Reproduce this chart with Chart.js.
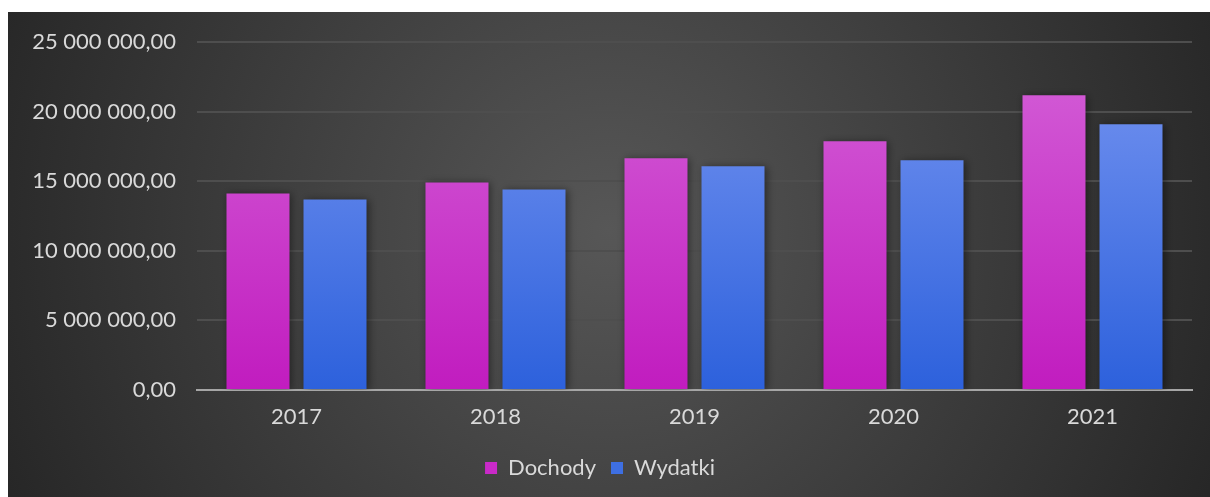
<!DOCTYPE html>
<html>
<head>
<meta charset="utf-8">
<script src="https://cdn.jsdelivr.net/npm/chart.js@4/dist/chart.umd.min.js"></script>
<style>
  html, body { margin: 0; padding: 0; background: #fff; }
  #wrap { position: absolute; left: 8px; top: 12px; width: 1202px; height: 485px; }
</style>
</head>
<body>
<div id="wrap"><canvas id="myChart"></canvas></div>
<script>
const lata = ['2017', '2018', '2019', '2020', '2021'];
const dochody = [14120000, 14910000, 16640000, 17870000, 21180000];
const wydatki = [13690000, 14410000, 16070000, 16500000, 19090000];
const tickValues = [0, 5000000, 10000000, 15000000, 20000000, 25000000];

function formatPL(v) { // 25 000 000,00
  const s = Math.round(v).toString().replace(/\B(?=(\d{3})+(?!\d))/g, ' ');
  return s + ',00';
}

const tlo = { // radialny gradient tła
  id: 'tlo',
  beforeDraw(chart) {
    const c = chart.ctx, w = chart.width, h = chart.height;
    const g = c.createRadialGradient(w * 0.5, h * 0.45, 0, w * 0.5, h * 0.45, w * 0.6);
    g.addColorStop(0, '#575757');
    g.addColorStop(1, '#222222');
    c.save();
    c.fillStyle = g;
    c.fillRect(0, 0, w, h);
    c.restore();
  }
};

const kolory = [['#d157d4', '#c11cbf'], ['#6689ec', '#2d61dc']];

const gradienty = { // gradient na każdym słupku + cień
  id: 'gradienty',
  beforeDatasetsDraw(chart) {
    const c = chart.ctx;
    chart.data.datasets.forEach((ds, i) => {
      chart.getDatasetMeta(i).data.forEach(el => {
        const g = c.createLinearGradient(0, el.y, 0, el.base);
        g.addColorStop(0, kolory[i][0]);
        g.addColorStop(1, kolory[i][1]);
        el.options.backgroundColor = g;
      });
    });
    c.save();
    c.shadowColor = 'rgba(0,0,0,0.45)';
    c.shadowBlur = 8;
    c.shadowOffsetX = 2;
    c.shadowOffsetY = 1;
  },
  afterDatasetsDraw(chart) {
    chart.ctx.restore();
  }
};

const font = { family: 'Lato', size: 22 };

const ctx = document.getElementById('myChart');
const myChart = new Chart(ctx, {
  type: 'bar',
  data: {
    labels: lata,
    datasets: [
      { label: 'Dochody', data: dochody, backgroundColor: '#c92ac8' },
      { label: 'Wydatki', data: wydatki, backgroundColor: '#3e6fe2' }
    ]
  },
  options: {
    responsive: true,
    maintainAspectRatio: false,
    animation: false,
    categoryPercentage: 0.774,
    barPercentage: 0.818,
    layout: { padding: { left: 0, right: 18, top: 30, bottom: 8 } },
    plugins: {
      tooltip: { enabled: false },
      legend: {
        position: 'bottom',
        labels: {
          color: '#d9d9d9',
          font: font,
          boxWidth: 12,
          boxHeight: 12,
          padding: 15,
          useBorderRadius: false
        }
      }
    },
    scales: {
      x: {
        afterFit(axis) { axis.height = 52; },
        grid: { display: false, drawTicks: false },
        border: { color: '#a6a6a6', width: 2 },
        ticks: { color: '#d9d9d9', font: font, padding: 14 }
      },
      y: {
        min: 0,
        max: 25000000,
        afterBuildTicks(axis) { axis.ticks = tickValues.map(v => ({ value: v })); },
        afterFit(axis) { axis.width = 189; axis.paddingTop = 0; axis.paddingBottom = 0; },
        grid: { color: '#4e4e4e', lineWidth: 2, drawTicks: false },
        border: { display: false },
        ticks: {
          color: '#d9d9d9',
          font: font,
          padding: 21,
          callback: v => formatPL(v)
        }
      }
    }
  },
  plugins: [tlo, gradienty]
});
</script>
</body>
</html>
